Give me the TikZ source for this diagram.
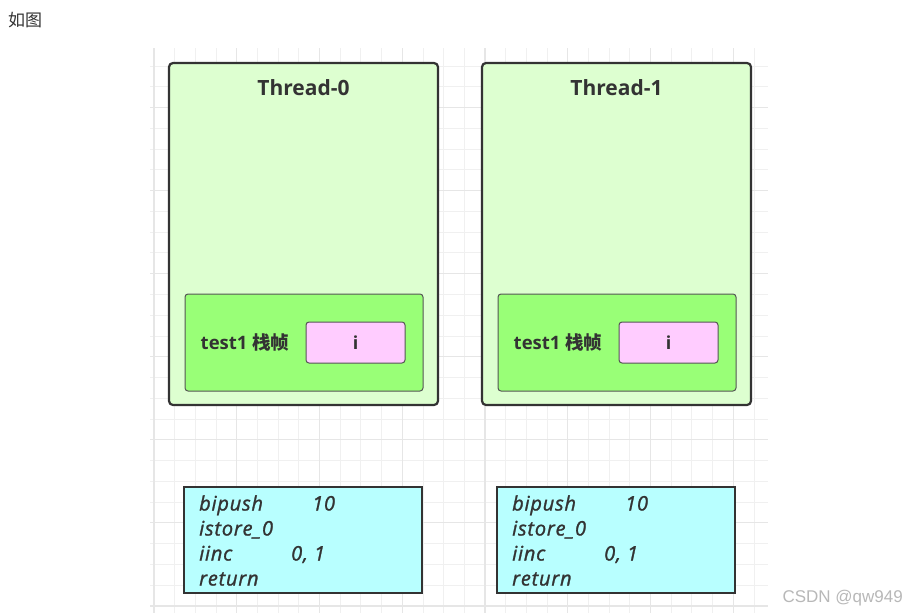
\documentclass[tikz,border=0pt]{standalone}
\usepackage{fontspec}
\setmainfont{Open Sans}
\newfontfamily\cjk{Noto Sans CJK SC}
\newfontfamily\codefont[FakeBold=1.3,LetterSpace=4]{Open Sans}
\newfontfamily\arialish{Liberation Sans}
\definecolor{gminor}{HTML}{F0F0F0}
\definecolor{gmajor}{HTML}{E6E6E6}
\definecolor{txt}{HTML}{333333}
\definecolor{thfill}{HTML}{DDFFD0}
\definecolor{frfill}{HTML}{99FF77}
\definecolor{pkfill}{HTML}{FFCCFF}
\definecolor{cdfill}{HTML}{B8FFFF}
\definecolor{bord}{HTML}{333333}
\definecolor{bord2}{HTML}{555555}
\begin{document}
\begin{tikzpicture}[x=1pt,y=-1pt,
  minorline/.style={gminor,line width=0.9pt},
  majorline/.style={gmajor,line width=1.1pt},
  threadbox/.style={draw=bord,fill=thfill,line width=2.2pt,rounded corners=4pt,minimum width=269pt,minimum height=342pt,inner sep=0pt},
  framebox/.style={draw=bord2,fill=frfill,line width=1pt,rounded corners=3pt,minimum width=238pt,minimum height=97pt,inner sep=0pt},
  varbox/.style={draw=bord2,fill=pkfill,line width=1pt,rounded corners=3pt,minimum width=99pt,minimum height=41pt,inner sep=0pt,text=txt,font=\fontsize{18}{20}\selectfont\bfseries},
  codebox/.style={draw=bord,fill=cdfill,line width=2pt,minimum width=238pt,minimum height=106pt,inner sep=0pt},
  titletext/.style={text=txt,font=\fontsize{21}{24}\selectfont\bfseries,inner sep=0pt},
  labeltext/.style={text=txt,font=\fontsize{18.5}{20}\selectfont\bfseries,inner sep=0pt},
  codetext/.style={text=txt,font=\codefont\fontsize{20}{22}\selectfont\itshape,inner sep=0pt,anchor=base west}
]
\useasboundingbox (0,0) rectangle (906,613);
\fill[white] (0,0) rectangle (906,613);
% grid
\begin{scope}
\clip (150,48) rectangle (768,613);
\foreach \k in {0,...,29} {
  \pgfmathsetmacro\xx{154+20.69*\k}
  \draw[minorline] (\xx,48) -- (\xx,613);
}
\foreach \k in {-1,...,26} {
  \pgfmathsetmacro\yy{66+20.77*\k}
  \draw[minorline] (150,\yy) -- (768,\yy);
}
\foreach \k in {0,4,...,28} {
  \pgfmathsetmacro\xx{154+20.69*\k}
  \draw[majorline] (\xx,48) -- (\xx,613);
}
\foreach \k in {2,6,...,26} {
  \pgfmathsetmacro\yy{66+20.77*\k}
  \draw[majorline] (150,\yy) -- (768,\yy);
}
\end{scope}
% header text
\node[text=txt,font=\cjk\fontsize{17}{20}\selectfont,anchor=west,inner sep=0pt] (hdr) at (8,20) {如图};
% threads
\foreach \i/\dx in {0/0,1/313} {
  \node[threadbox] (t\i) at (303.5+\dx,234) {};
  \node[titletext] (tt\i) at (303.5+\dx,88) {Thread-\i};
  \node[framebox] (fr\i) at (304+\dx,342.5) {};
  \node[labeltext] (lab\i) at (245+\dx,342) {test1 {\cjk 栈帧}};
  \node[varbox] (v\i) at (355.5+\dx,342.5) {i};
  \node[codebox] (c\i) at (303+\dx,540) {};
  \node[codetext] (b\i) at (199+\dx,510.5) {bipush};
  \node[codetext] (bn\i) at (312+\dx,510.5) {10};
  \node[codetext] (s\i) at (199+\dx,535.5) {istore\_0};
  \node[codetext] (ii\i) at (199+\dx,560.5) {iinc};
  \node[codetext] (in\i) at (291+\dx,560.5) {0, 1};
  \node[codetext] (r\i) at (199+\dx,585.5) {return};
}
% watermark
\node[text=black!28,font=\arialish\fontsize{17}{20}\selectfont,anchor=east,inner sep=0pt] (wm) at (903,598) {CSDN @qw949};
\end{tikzpicture}
\end{document}
